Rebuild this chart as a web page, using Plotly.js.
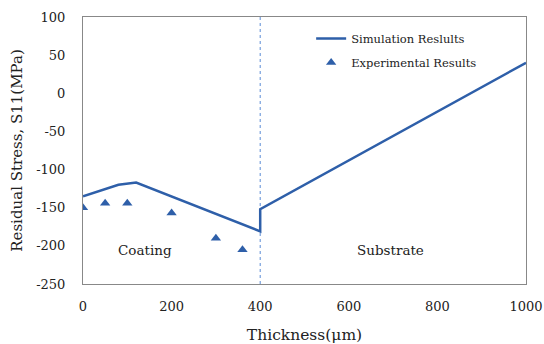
<!DOCTYPE html>
<html><head><meta charset="utf-8">
<script src="https://cdn.plot.ly/plotly-3.0.1.min.js"></script>
<style>html,body{margin:0;padding:0;background:#fff}#chart{width:544px;height:344px}</style>
</head><body><div id="chart"></div>
<script>
const simThickness = [0, 80, 120, 400, 400, 1000];
const simStress = [-135, -120, -117, -181, -152, 40];
const expThickness = [0, 50, 100, 200, 300, 360];
const expStress = [-150, -144, -144, -157, -190, -205];
const interfaceX = [400, 400];
const interfaceY = [-250, 100];
const xTicks = [0, 200, 400, 600, 800, 1000];
const yTicks = [100, 50, 0, -50, -100, -150, -200, -250];
const blue = '#2E5FA9';
const font = '"DejaVu Serif", "Liberation Serif", serif';

const traces = [
  {x: interfaceX, y: interfaceY, mode: 'lines', line: {color: '#5B8BD6', width: 1, dash: 'dot'}, showlegend: false, hoverinfo: 'skip'},
  {x: simThickness, y: simStress, mode: 'lines', name: 'Simulation Reslults', legend: 'legend', line: {color: blue, width: 2.5}},
  {x: expThickness, y: expStress, mode: 'markers', name: 'Experimental Results', legend: 'legend2', marker: {symbol: 'triangle-up', size: 9, color: blue}}
];

const legFont = {family: font, size: 11.5, color: '#222'};
const layout = {
  width: 544, height: 344,
  margin: {l: 83, r: 18, t: 17, b: 60},
  paper_bgcolor: '#fff', plot_bgcolor: '#fff',
  font: {family: font, color: '#222', size: 13},
  showlegend: true,
  legend: {x: 0.515, y: 0.974, xanchor: 'left', yanchor: 'top', bgcolor: 'rgba(0,0,0,0)', font: legFont},
  legend2: {x: 0.515, y: 0.884, xanchor: 'left', yanchor: 'top', bgcolor: 'rgba(0,0,0,0)', font: legFont},
  xaxis: {range: [0, 1000], tickvals: xTicks, ticktext: xTicks.map(String), showgrid: false, zeroline: false,
    showline: true, linecolor: '#888', linewidth: 1, mirror: true, ticks: '', ticklen: 0, ticklabelstandoff: 10,
    tickfont: {family: font, size: 13, color: '#222'},
    title: {text: 'Thickness(μm)', font: {family: font, size: 15.5, color: '#222'}, standoff: 17}},
  yaxis: {range: [-250, 100], tickvals: yTicks, ticktext: yTicks.map(String), showgrid: false, zeroline: false,
    showline: true, linecolor: '#888', linewidth: 1, mirror: true, ticks: '', ticklen: 0, ticklabelstandoff: 14,
    tickfont: {family: font, size: 13, color: '#222'},
    title: {text: 'Residual Stress, S11(MPa)', font: {family: font, size: 15, color: '#222'}, standoff: 9}},
  annotations: [
    {x: 140, y: -205, xref: 'x', yref: 'y', text: 'Coating', showarrow: false, font: {family: font, size: 13.5, color: '#222'}},
    {x: 695, y: -205, xref: 'x', yref: 'y', text: 'Substrate', showarrow: false, font: {family: font, size: 13.5, color: '#222'}}
  ]
};

Plotly.newPlot('chart', traces, layout, {displayModeBar: false, staticPlot: true});
</script></body></html>
